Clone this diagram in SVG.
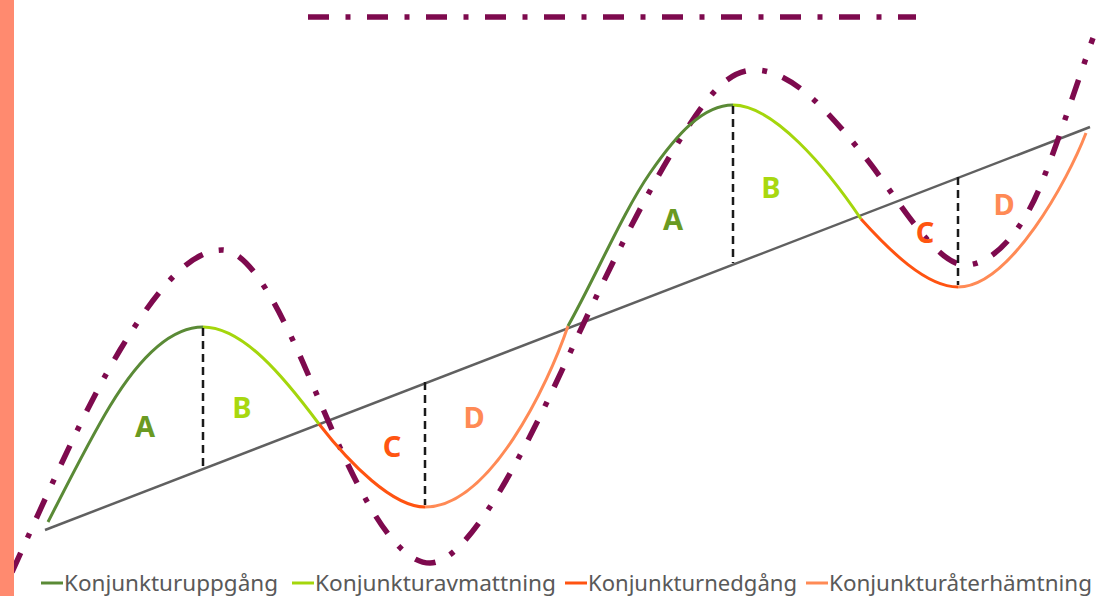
<svg xmlns="http://www.w3.org/2000/svg" width="1101" height="596" viewBox="0 0 1101 596">
<style>
.dd{fill:none;stroke:#7E0A4E;stroke-width:5.5;stroke-dasharray:21 16.5 5 16.5}
.seg{fill:none;stroke-width:3;stroke-linecap:butt}
.dg{stroke:#5A8A36}.lg{stroke:#A4D60C}.rd{stroke:#FF5311}.lo{stroke:#FF8A55}
.vd{stroke:#1a1a1a;stroke-width:2.5;stroke-dasharray:8 5}
.lbl{font-family:"Noto Sans","Open Sans",sans-serif;font-weight:bold;font-size:29px;text-anchor:middle}
.leg{font-family:"Noto Sans","Open Sans",sans-serif;font-size:22px;fill:#595959}
</style>
<rect width="1101" height="596" fill="#ffffff"/>
<g id="connectors">
<line id="trend" x1="45" y1="530" x2="1090" y2="127" stroke="#606060" stroke-width="2.5"/>
<path id="cycle-bound" class="dd" d="M12,572 C48,493 84,410 120,350 C154,294 188,250 222,250 C257,250 295,344 320,402 C350,472 390,563 430,563 C475,563 545,407 575,342 C613,260 652,181 690,124 C712,91 730,70 755,70 C795,70 835,120 865,157 C895,194 935,265 965,265 C993,265 1022,231 1040,187 C1058,143 1076,86 1093,38"/>
<line id="top-line" class="dd" x1="308" y1="17" x2="916" y2="17" stroke-width="5"/>
<path class="seg dg" d="M48,522 C68,483 90,439 110,406 C141,355 172,327 203,327"/>
<path class="seg lg" d="M203,327 C243,327 284,377 319,424"/>
<path class="seg rd" d="M319,424 C350,464 393,507 425,507"/>
<path class="seg lo" d="M425,507 C490,507 548,385 568,326"/>
<path class="seg dg" d="M568,326 C595,278 623,212 650,173 C677,134 703,105 733,105"/>
<path class="seg lg" d="M733,105 C773,105 826,167 861,219"/>
<path class="seg rd" d="M861,219 C889,250 926,287 958,287"/>
<path class="seg lo" d="M958,287 C1010,287 1068,180 1086,133"/>
<line class="vd" x1="203" y1="328" x2="203" y2="467"/>
<line class="vd" x1="425" y1="382" x2="425" y2="505"/>
<line class="vd" x1="733" y1="106" x2="733" y2="263"/>
<line class="vd" x1="958" y1="177" x2="958" y2="285"/>
</g>
<g id="labels">
<text class="lbl" x="145" y="437" fill="#6A9A22">A</text>
<text class="lbl" x="242" y="418" fill="#A8D80F">B</text>
<text class="lbl" x="392" y="457" fill="#FF5511">C</text>
<text class="lbl" x="474" y="428" fill="#FF8A55">D</text>
<text class="lbl" x="673" y="230" fill="#6A9A22">A</text>
<text class="lbl" x="771" y="198" fill="#A8D80F">B</text>
<text class="lbl" x="925" y="243" fill="#FF5511">C</text>
<text class="lbl" x="1004" y="215" fill="#FF8A55">D</text>
</g>
<g id="legend">
<line x1="41" y1="583" x2="63" y2="583" stroke="#5A8A36" stroke-width="3"/>
<text class="leg" x="64" y="591" textLength="214" lengthAdjust="spacingAndGlyphs">Konjunkturuppgång</text>
<line x1="292" y1="583" x2="314" y2="583" stroke="#A4D60C" stroke-width="3"/>
<text class="leg" x="315" y="591" textLength="241" lengthAdjust="spacingAndGlyphs">Konjunkturavmattning</text>
<line x1="565" y1="583" x2="587" y2="583" stroke="#FF5311" stroke-width="3"/>
<text class="leg" x="588" y="591" textLength="209" lengthAdjust="spacingAndGlyphs">Konjunkturnedgång</text>
<line x1="806" y1="583" x2="828" y2="583" stroke="#FF8A55" stroke-width="3"/>
<text class="leg" x="829" y="591" textLength="263" lengthAdjust="spacingAndGlyphs">Konjunkturåterhämtning</text>
</g>
<rect id="stripe" x="0" y="0" width="14" height="596" fill="#FF8A6F"/>
</svg>
